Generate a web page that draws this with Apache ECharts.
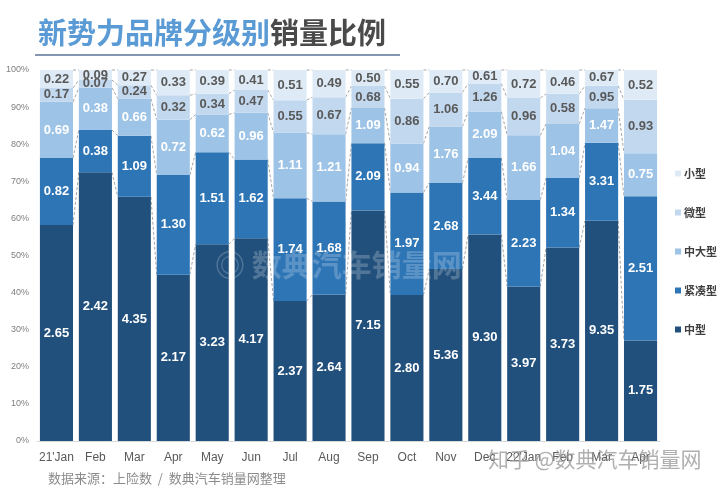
<!DOCTYPE html>
<html>
<head>
<meta charset="utf-8">
<script src="https://cdn.jsdelivr.net/npm/echarts@6/dist/echarts.min.js"></script>
<style>html,body{margin:0;padding:0;background:#fff;}#c{width:720px;height:491px;}</style>
</head>
<body>
<div id="c"></div>
<script>
var categories = ["21'Jan","Feb","Mar","Apr","May","Jun","Jul","Aug","Sep","Oct","Nov","Dec","22'Jan","Feb","Mar","Apr"];
var zhongxing   = [2.65,2.42,4.35,2.17,3.23,4.17,2.37,2.64,7.15,2.80,5.36,9.30,3.97,3.73,9.35,1.75];
var jincouxing  = [0.82,0.38,1.09,1.30,1.51,1.62,1.74,1.68,2.09,1.97,2.68,3.44,2.23,1.34,3.31,2.51];
var zhongdaxing = [0.69,0.38,0.66,0.72,0.62,0.96,1.11,1.21,1.09,0.94,1.76,2.09,1.66,1.04,1.47,0.75];
var weixing     = [0.17,0.07,0.24,0.32,0.34,0.47,0.55,0.67,0.68,0.86,1.06,1.26,0.96,0.58,0.95,0.93];
var xiaoxing    = [0.22,0.09,0.27,0.33,0.39,0.41,0.51,0.49,0.50,0.55,0.70,0.61,0.72,0.46,0.67,0.52];
var yTicks = [0,10,20,30,40,50,60,70,80,90,100];

var seriesDefs = [
  {name:'中型', data:zhongxing, color:'#22507c', label:'#ffffff'},
  {name:'紧凑型', data:jincouxing, color:'#2e75b6', label:'#ffffff'},
  {name:'中大型', data:zhongdaxing, color:'#9dc3e6', label:'#ffffff'},
  {name:'微型', data:weixing, color:'#c2d8ef', label:'#595959'},
  {name:'小型', data:xiaoxing, color:'#deebf7', label:'#595959'}
];
var totals = categories.map(function(_, i){
  var s = 0; seriesDefs.forEach(function(d){ s += d.data[i]; }); return s;
});
var GAP = 0.15;

var series = seriesDefs.map(function(d){
  return {
    name: d.name, type:'bar', stack:'total', barCategoryGap:(GAP*100)+'%',
    itemStyle:{color:d.color},
    data: d.data.map(function(v,i){ return {value: v/totals[i]*100, raw: v}; }),
    label:{show:true, position:'inside', color:d.label, fontFamily:'Liberation Sans, Arial', fontWeight:'bold', fontSize:13,
      formatter:function(p){ return p.data.raw.toFixed(2); }},
    emphasis:{disabled:true}
  };
});

// cumulative boundaries for connector lines
var conn = [];
for (var i = 0; i < categories.length - 1; i++) {
  var row = [i];
  var c1 = 0, c2 = 0;
  seriesDefs.forEach(function(d){
    c1 += d.data[i]/totals[i]*100;
    c2 += d.data[i+1]/totals[i+1]*100;
    row.push(c1); row.push(c2);
  });
  conn.push(row);
}
series.push({
  type:'custom', silent:true, z:1,
  encode:{x:0, y:1},
  data: conn,
  renderItem:function(params, api){
    var idx = api.value(0);
    var band = api.size([1,0])[0];
    var half = band*(1-GAP)/2;
    var children = [];
    for (var k = 0; k < 5; k++) {
      var a = api.coord([idx, api.value(1+2*k)]);
      var b = api.coord([idx+1, api.value(2+2*k)]);
      children.push({type:'line', shape:{x1:a[0]+half, y1:a[1], x2:b[0]-half, y2:b[1]},
        style:{stroke:'#a6a6a6', lineWidth:1, lineDash:[3,2]}});
    }
    return {type:'group', children:children};
  }
});

var chart = echarts.init(document.getElementById('c'));
chart.setOption({
  animation:false,
  backgroundColor:'#ffffff',
  grid:{left:37, right:60, top:70, bottom:50, containLabel:false},
  legend:{
    orient:'vertical', left:670, top:163, itemWidth:6, itemHeight:6, itemGap:28,
    data:['小型','微型','中大型','紧凑型','中型'],
    textStyle:{color:'#404040', fontSize:11, fontWeight:'bold', fontFamily:'Noto Sans CJK SC', padding:[0,0,0,-2]},
    icon:'rect'
  },
  xAxis:{
    type:'category', data:categories,
    axisLine:{lineStyle:{color:'#d9d9d9'}}, axisTick:{show:false},
    axisLabel:{color:'#595959', fontSize:12, fontFamily:'Liberation Sans, Arial', margin:11, interval:0}
  },
  yAxis:{
    type:'value', min:yTicks[0], max:yTicks[yTicks.length-1], interval:10,
    splitLine:{show:false}, axisLine:{show:false}, axisTick:{show:false},
    axisLabel:{formatter:'{value}%', color:'#7f7f7f', fontSize:9, fontFamily:'Liberation Sans, Arial', margin:8}
  },
  series: series,
  graphic:[
    {type:'text', left:38, top:18, style:{text:'新势力品牌分级别', fill:'#5b9bd5', font:'bold 29px "Noto Sans CJK SC"'}},
    {type:'text', left:270, top:18, style:{text:'销量比例', fill:'#4a4a4a', font:'bold 29px "Noto Sans CJK SC"'}},
    {type:'rect', left:35, top:54, shape:{width:365, height:2}, style:{fill:'#8496b0'}},
    {type:'text', left:48, top:472, style:{text:'数据来源：上险数  /  数典汽车销量网整理', fill:'#8c8c8c', font:'13px "Noto Sans CJK SC"'}},
    {type:'text', left:215, top:250, z:100, style:{text:'◎ 数典汽车销量网', fill:'rgba(255,255,255,0.22)', font:'bold 30px "Noto Sans CJK SC"'}},
    {type:'text', left:488, top:449, z:100, style:{text:'知乎 @数典汽车销量网', fill:'rgba(150,150,150,0.75)', font:'21px "Noto Sans CJK SC"'}}
  ]
});
</script>
</body>
</html>
